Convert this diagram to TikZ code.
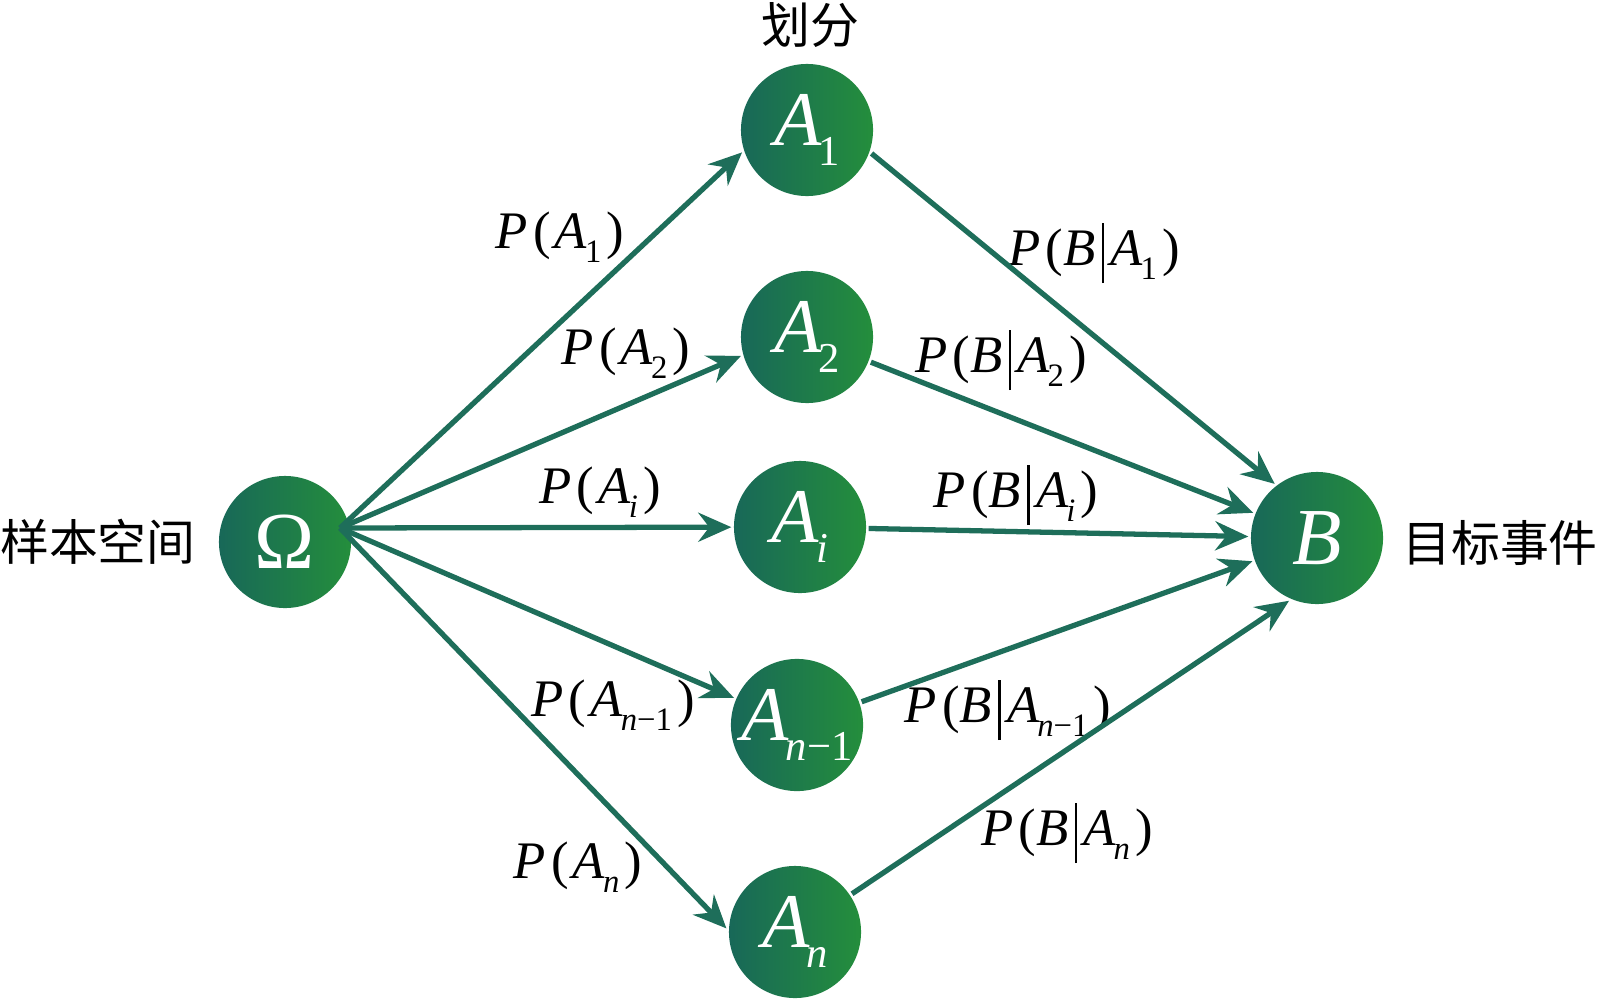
\documentclass[tikz,border=0pt]{standalone}
\usepackage{fontspec}
\setmainfont{Liberation Serif}
\newfontfamily\cjk{Noto Sans CJK SC}
\usetikzlibrary{arrows.meta}

\definecolor{gleft}{RGB}{24,104,88}
\definecolor{gright}{RGB}{36,142,60}
\definecolor{arrowc}{RGB}{30,110,90}

% subscript, vertical bar and the two kinds of label
\newcommand\sbs[2][0.62]{\kern-0.04em\raisebox{-0.27em}{\scalebox{#1}{#2}}}
\newcommand\cbar{\kern0.12em\rule[-0.34em]{0.045em}{1.14em}\kern0.12em}
\newcommand\prA[1]{\textit{P}\kern0.1em(\kern0.08em\textit{A}\sbs{#1}\kern0.1em)}
\newcommand\prBA[1]{\textit{P}\kern0.1em(\textit{B}\cbar\textit{A}\sbs{#1}\kern0.1em)}
\newcommand\nA[1]{\textit{A}\sbs[0.55]{#1}}

\begin{document}
\begin{tikzpicture}[->,>={Stealth[length=3.3mm,width=2.9mm,inset=1.1mm]},
    x=0.01cm,y=-0.01cm,line width=1.5pt,
    every edge/.append style={draw=arrowc},
    main node/.style={circle,left color=gleft,right color=gright,
        text=white,minimum size=13.2mm,inner sep=0pt,
        font=\fontsize{22}{26}\selectfont},
    prob node/.style={inner sep=0pt,font=\fontsize{15}{18}\selectfont},
    cjk node/.style={inner sep=0pt,font=\cjk\fontsize{13.9}{16}\selectfont}]

  \useasboundingbox (0,0) rectangle (1600,1000);

  \node[main node] (Om) at (285,542) {\fontsize{23}{26}\selectfont Ω};
  \node[main node] (A1) at (807,130) {\nA{1}};
  \node[main node] (A2) at (807,337) {\nA{2}};
  \node[main node] (Ai) at (800,527) {\nA{\textit{i}}};
  \node[main node] (Am) at (797,725) {\nA{\textit{n}−1}};
  \node[main node] (An) at (795,932) {\nA{\textit{n}}};
  \node[main node] (B) at (1317,538) {\fontsize{23}{26}\selectfont\textit{B}};
  \coordinate (src) at (340,528);

  \node[cjk node] (omega label) at (98,542) {样本空间};
  \node[cjk node] (part label) at (810,25) {划分};
  \node[cjk node] (b label) at (1500,543) {目标事件};

  % probabilities of the parts
  \node[prob node] (pa1) at (560,237) {\prA{1}};
  \node[prob node] (pa2) at (626,353) {\prA{2}};
  \node[prob node] (pai) at (600,492) {\prA{\textit{i}}};
  \node[prob node] (pam) at (613,705) {\prA{\textit{n}−1}};
  \node[prob node] (pan) at (578,867) {\prA{\textit{n}}};

  % conditional probabilities
  \node[prob node] (pb1) at (1094,253) {\prBA{1}};
  \node[prob node] (pb2) at (1001,360) {\prBA{2}};
  \node[prob node] (pbi) at (1016,495) {\prBA{\textit{i}}};
  \node[prob node] (pbm) at (1008,710) {\prBA{\textit{n}−1}};
  \node[prob node] (pbn) at (1067,833) {\prBA{\textit{n}}};

  \path (src) edge (A1.199) edge (A2.196) edge (Ai) edge (Am) edge (An.177);
  \path (A1.-20) edge (B.128) (A2) edge (B) (Ai) edge (B) (Am) edge (B)
    (An) edge (B.246);
\end{tikzpicture}
\end{document}
